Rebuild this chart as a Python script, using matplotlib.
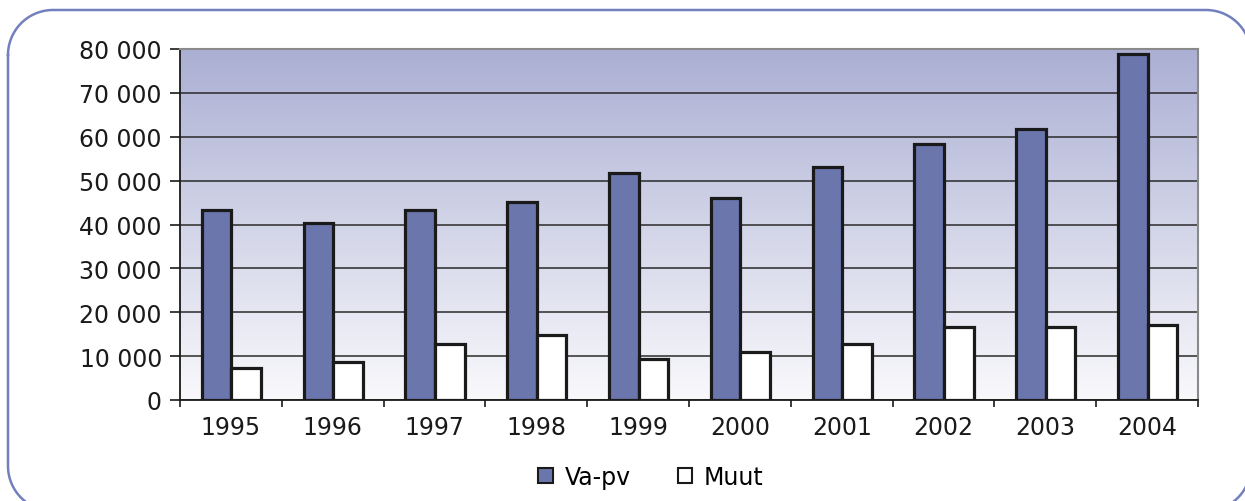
import numpy as np
import matplotlib
matplotlib.use("Agg")
import matplotlib.pyplot as plt
from matplotlib.patches import Patch
from matplotlib.lines import Line2D
from matplotlib.ticker import FuncFormatter, FixedLocator

years = ["1995", "1996", "1997", "1998", "1999", "2000", "2001", "2002", "2003", "2004"]
va_pv = [43300, 40300, 43300, 45100, 51700, 46000, 53100, 58300, 61700, 78800]
muut = [7300, 8600, 12800, 14800, 9400, 10900, 12800, 16600, 16600, 17100]
series_names = ["Va-pv", "Muut"]

W, H = 1245, 502
fig = plt.figure(figsize=(W / 100, H / 100), dpi=100)
plt.rcParams['font.family'] = ['DejaVu Sans']

# rounded frame in pixel coords (y downward), converted to figure fraction
L, T, R, B, r = 8, 11, 1251, 512, 45
pts = []
def arc(cx, cy, a0, a1):
    for a in np.linspace(a0, a1, 30):
        pts.append((cx + r * np.cos(a), cy + r * np.sin(a)))
arc(L + r, T + r, np.pi, 1.5 * np.pi)       # top-left
arc(R - r, T + r, 1.5 * np.pi, 2 * np.pi)   # top-right
arc(R - r, B - r, 0, 0.5 * np.pi)           # bottom-right
arc(L + r, B - r, 0.5 * np.pi, np.pi)       # bottom-left
pts.append(pts[0])
pts = np.array(pts)
fig.add_artist(Line2D(pts[:, 0] / W, 1 - pts[:, 1] / H, transform=fig.transFigure,
                      color="#7280BD", linewidth=1.8))

ax = fig.add_axes([180 / W, 1 - 401 / H, (1198 - 180) / W, (401 - 50) / H])
n = len(years)
x = np.arange(n)

# gradient background
grad = np.linspace(0, 1, 256).reshape(-1, 1)
top = np.array([171, 175, 211]) / 255
bot = np.array([249, 249, 252]) / 255
img = top[None, None, :] * (1 - grad[:, :, None]) + bot[None, None, :] * grad[:, :, None]
ax.imshow(img, extent=[-0.5, n - 0.5, 0, 80000], aspect="auto", zorder=0, origin="upper")

bw = 0.29
ax.bar(x - bw / 2 + 0.005, va_pv, width=bw, color="#6B76AD", edgecolor="#1a1a1a",
       linewidth=2.3, zorder=3, label=series_names[0])
ax.bar(x + bw / 2 + 0.005, muut, width=bw, color="white", edgecolor="#1a1a1a",
       linewidth=2.3, zorder=3, label=series_names[1])

ax.set_xlim(-0.5, n - 0.5)
ax.set_ylim(0, 80000)
ax.set_yticks(np.arange(0, 80001, 10000))
ax.yaxis.set_major_formatter(FuncFormatter(lambda v, p: f"{int(v):,}".replace(",", " ")))
ax.yaxis.grid(True, color="#2a2a2a", linewidth=1.1, zorder=1)
ax.set_axisbelow(True)

ax.set_xticks(x)
ax.set_xticklabels(years)
ax.xaxis.set_minor_locator(FixedLocator(np.arange(-0.5, n, 1.0)))
ax.tick_params(axis="x", which="major", length=0, pad=11, labelsize=17, colors="#1a1a1a")
ax.tick_params(axis="x", which="minor", length=5, width=1.2, color="#1a1a1a", direction="out")
ax.tick_params(axis="y", length=7, width=1.2, pad=6, labelsize=17, colors="#1a1a1a", direction="out")

for s in ["top", "right"]:
    ax.spines[s].set_color("#8a8a8a")
    ax.spines[s].set_linewidth(1.5)
for s in ["left", "bottom"]:
    ax.spines[s].set_color("#1a1a1a")
    ax.spines[s].set_linewidth(1.3)

handles = [Patch(facecolor="#6B76AD", edgecolor="#1a1a1a", linewidth=1.5),
           Patch(facecolor="white", edgecolor="#1a1a1a", linewidth=1.5)]
fig.legend(handles, series_names, loc="center", bbox_to_anchor=(651 / W, 1 - 478 / H),
           ncol=2, frameon=False, fontsize=17, handlelength=0.6, handleheight=0.6,
           handletextpad=0.5, columnspacing=2.0)

fig.savefig("out.png", dpi=100)
